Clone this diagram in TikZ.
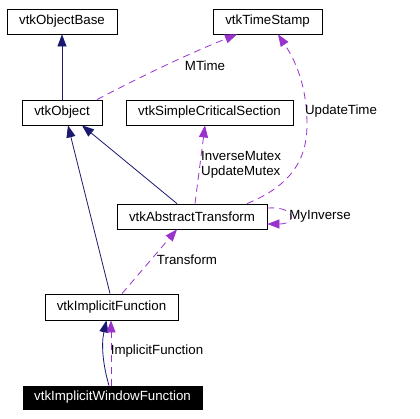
\documentclass[tikz,border=0pt]{standalone}
\usepackage{fontspec}
\setmainfont{Liberation Sans}
\usetikzlibrary{arrows.meta,calc}
\definecolor{navy}{HTML}{191970}
\definecolor{purp}{HTML}{9A32CD}
\begin{document}
\begin{tikzpicture}[x=1pt,y=-1pt,
  font=\fontsize{13.3}{15}\selectfont,
  cls/.style={draw=black, line width=0.8pt, inner sep=0pt, minimum height=25pt, fill=white},
  inh/.style={draw=navy, line width=0.8pt, -{Triangle[length=12pt,width=9pt]}},
  use/.style={draw=purp, line width=0.8pt, dash pattern=on 7pt off 5pt, -{Triangle[length=12pt,width=9pt]}},
  lbl/.style={inner sep=0pt}]
\useasboundingbox (0,0) rectangle (420,418);
\fill[white] (0,0) rectangle (420,418);
% classes
\node[cls, minimum width=110pt] (ob) at (62,21.5) {vtkObjectBase};
\node[cls, minimum width=109pt] (ts) at (267.5,21.5) {vtkTimeStamp};
\node[cls, minimum width=80pt] (obj) at (62,112.5) {vtkObject};
\node[cls, minimum width=167pt] (scs) at (209.5,112.5) {vtkSimpleCriticalSection};
\node[cls, minimum width=150pt] (at) at (192,216.5) {vtkAbstractTransform};
\node[cls, minimum width=133pt, minimum height=26pt] (if) at (111.5,307) {vtkImplicitFunction};
\node[cls, fill=black, text=white, minimum width=179pt, minimum height=23pt] (iwf) at (112.5,397.5) {vtkImplicitWindowFunction};
% inheritance
\draw[inh] (obj.north) -- (ob.south);
\draw[inh] ([xshift=-15pt]at.north) -- ([xshift=20pt]obj.south);
\draw[inh] ([xshift=-1.5pt]if.north) -- ([xshift=6pt]obj.south);
\draw[inh] ([xshift=-3.5pt]iwf.north) .. controls (103,365) and (101,345) .. ([xshift=-5pt]if.south);
% usage
\draw[use] ([xshift=35pt]obj.north) .. controls (143.7,75) and (190.3,53) .. ([xshift=-30.5pt]ts.south);
\node[lbl] (mtime) at (205,66) {MTime};
\draw[use] ([xshift=3pt]at.north) -- ([xshift=-4.5pt]scs.south);
\node[lbl, anchor=west, align=left] (mutex) at (201,164.5) {InverseMutex\\UpdateMutex};
\draw[use] ([xshift=55pt]at.north) .. controls (285,188) and (307,165) .. (307,125)
  .. controls (307,85) and (295,60) .. ([xshift=10.5pt]ts.south);
\node[lbl] (utime) at (341,111) {UpdateTime};
\draw[use] ($(at.east)+(0,-8.5)$) .. controls (296,206) and (298,224) .. ($(at.east)+(0,7.5)$);
\node[lbl] (myinv) at (320,216) {MyInverse};
\draw[use] ([xshift=10.5pt]if.north) -- ([xshift=-15pt]at.south);
\node[lbl] (trans) at (187,260) {Transform};
\draw[use] ([xshift=-1.5pt]iwf.north) -- ([xshift=-0.5pt]if.south);
\node[lbl] (implf) at (157,351) {ImplicitFunction};
\end{tikzpicture}
\end{document}
